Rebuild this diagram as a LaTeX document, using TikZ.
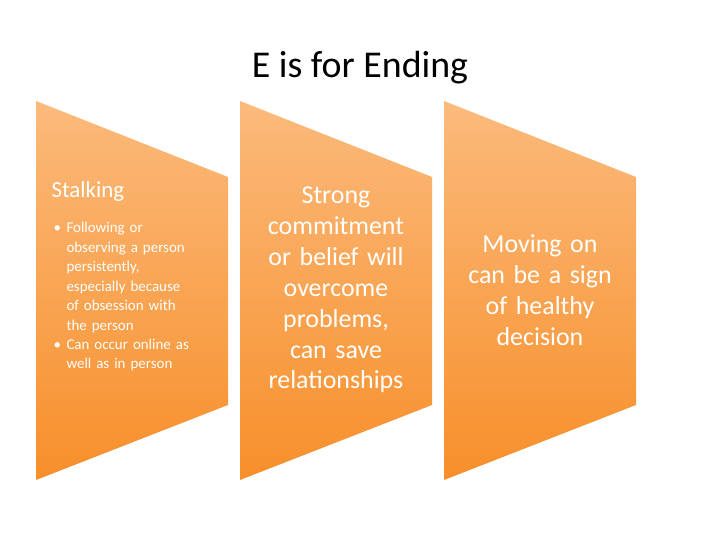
\documentclass[tikz,border=0pt]{standalone}
\usepackage{fontspec}
\setmainfont{Carlito}
\begin{document}
\begin{tikzpicture}[x=1bp,y=-1bp,
  chev/.style={top color=orange!45!yellow!60!white, bottom color=orange!85!yellow, middle color=orange!60!yellow!80!white, draw=none},
  big/.style={text=white,font=\fontsize{26}{31}\selectfont,align=center,text width=180bp}]
\useasboundingbox (0,0) rectangle (720,540);
\fill[white] (0,0) rectangle (720,540);
\colorlet{ctop}{white}
\definecolor{ctop}{HTML}{FBBA7C}
\definecolor{cbot}{HTML}{F78F2A}
\foreach \x/\n in {36/a,240/b,444/c}{
  \shade[top color=ctop,bottom color=cbot] (\x,101) -- (\x+192,177) -- (\x+192,405) -- (\x,480) -- cycle;
}
\node[font=\fontsize{38}{40}\selectfont] (t) at (360,68) {E is for Ending};
\node[text=white,font=\fontsize{23}{26}\selectfont,anchor=west] (s) at (48,192) {Stalking};
\node[text=white,font=\fontsize{15}{19.5}\selectfont,anchor=north west,text width=150bp,align=left] (l) at (50,219) {%
\makebox[13bp][l]{•}Following or\\\hspace*{13bp}observing a person\\\hspace*{13bp}persistently,\\\hspace*{13bp}especially because\\\hspace*{13bp}of obsession with\\\hspace*{13bp}the person\\
\makebox[13bp][l]{•}Can occur online as\\\hspace*{13bp}well as in person};
\node[big] (m) at (336,290) {Strong\\commitment\\or belief will\\overcome\\problems,\\can save\\relationships};
\node[big] (r) at (540,290) {Moving on\\can be a sign\\of healthy\\decision};
\end{tikzpicture}
\end{document}
